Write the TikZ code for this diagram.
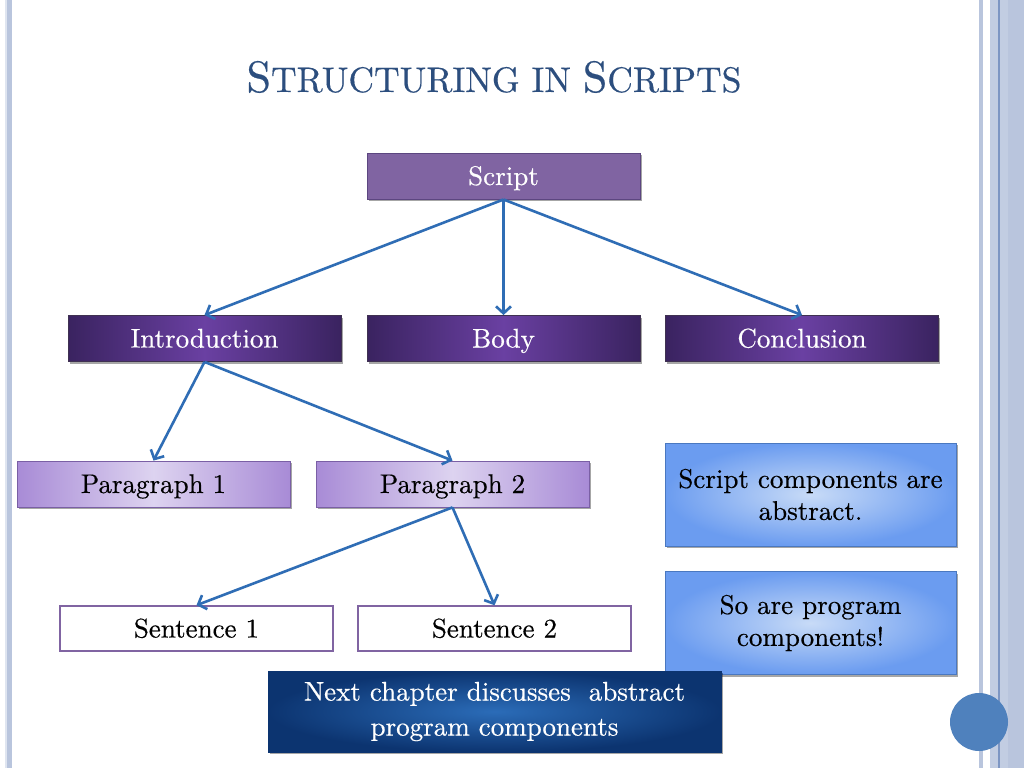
\documentclass[tikz,border=0pt]{standalone}
\usepackage{fontspec}
\newfontfamily\heavyrm{lmroman10-regular.otf}[FakeBold=0.4]
\usetikzlibrary{arrows.meta,shadows}
\definecolor{titleblue}{HTML}{2C4E7E}
\definecolor{scriptfill}{HTML}{8064A2}
\definecolor{scriptline}{HTML}{5C4680}
\definecolor{dpedge}{HTML}{3A2360}
\definecolor{dpmid}{HTML}{6A40A2}
\definecolor{dpline}{HTML}{3F3151}
\definecolor{lpedge}{HTML}{A88BD6}
\definecolor{lpmid}{HTML}{DDD3F0}
\definecolor{lpline}{HTML}{7A5FA5}
\definecolor{bbin}{HTML}{C8DBF7}
\definecolor{bbout}{HTML}{6B9CF0}
\definecolor{bbline}{HTML}{4A78C0}
\definecolor{ncin}{HTML}{2B6CB8}
\definecolor{ncout}{HTML}{0C3470}
\definecolor{arrowblue}{HTML}{2F6DB5}
\definecolor{frameA}{HTML}{B9C5DD}
\definecolor{frameB}{HTML}{C2CDE2}
\definecolor{frameC}{HTML}{7D96C3}
\definecolor{frameD}{HTML}{DFE5F0}
\definecolor{dotblue}{HTML}{4F81BD}
\newcommand{\ttlbig}[1]{{\fontsize{44}{50}\selectfont #1}}
\newcommand{\ttlsmall}[1]{{\fontsize{35.5}{50}\selectfont #1}}
\begin{document}
\begin{tikzpicture}[x=1pt,y=-1pt,
  lbl/.style={font=\heavyrm\fontsize{27}{32}\selectfont, align=center, inner sep=0pt},
  shad/.style={drop shadow={shadow xshift=1.5pt, shadow yshift=-2pt, opacity=0.35, fill=black}},
  treebox/.style={lbl, shad, minimum width=273, minimum height=46, text height=22pt, text depth=4pt},
  topbox/.style={treebox, fill=scriptfill, draw=scriptline, line width=1pt, text=white},
  darkbox/.style={treebox, left color=dpedge, right color=dpedge, middle color=dpmid, draw=dpline, line width=0.8pt, text=white},
  lightbox/.style={treebox, left color=lpedge, right color=lpedge, middle color=lpmid, draw=lpline, line width=0.8pt, text=black},
  sentbox/.style={lbl, minimum width=273, minimum height=45, text height=22pt, text depth=4pt, fill=white, draw=scriptfill, line width=1.5pt, text=black},
  notebox/.style={lbl, shad, minimum width=291, minimum height=103, inner color=bbin, outer color=bbout, draw=bbline, line width=0.8pt, text=black},
  chapbox/.style={lbl, font=\heavyrm\fontsize{27}{35}\selectfont, shad, minimum width=453, minimum height=81, inner color=ncin, outer color=ncout, draw=ncout, line width=0.8pt, text=white},
  conn/.style={draw=arrowblue, line width=2.6pt, -{Straight Barb[length=7pt,width=15pt,line width=2.6pt]}}
]
\useasboundingbox (0,0) rectangle (1024,768);
\fill[white] (0,0) rectangle (1024,768);
% frame strips
\fill[frameD] (5,0) rectangle (7,768);
\fill[frameA] (7,0) rectangle (12,768);
\fill[frameA] (979,0) rectangle (983,768);
\fill[frameB] (990,0) rectangle (1008,768);
\fill[frameC] (998,0) rectangle (999.5,768);
\fill[frameA] (1008,0) rectangle (1024,768);
\fill[dotblue] (979,722) circle (29);

\node[text=titleblue, inner sep=0pt, anchor=base] (title) at (494,92) {\heavyrm\ttlbig{S}\ttlsmall{TRUCTURING IN }\ttlbig{S}\ttlsmall{CRIPTS}};

\node[topbox] (script) at (503.5,176) {Script};
\node[darkbox] (intro) at (204.5,338.5) {Introduction};
\node[darkbox] (body) at (503.5,338.5) {Body};
\node[darkbox] (concl) at (802,338.5) {Conclusion};
\node[lightbox] (par1) at (153.5,484) {Paragraph 1};
\node[lightbox] (par2) at (452.5,484) {Paragraph 2};
\node[sentbox] (sen1) at (196.5,628.5) {Sentence 1};
\node[sentbox] (sen2) at (494.5,628.5) {Sentence 2};
\node[notebox] (note1) at (810.5,494.5) {Script components are\\abstract.};
\node[notebox] (note2) at (810.5,623) {So are program\\components!};
\node[chapbox] (chap) at (494.5,711.5) {Next chapter discusses\ \ abstract\\program components};

\draw[conn] (script.south) -- (intro.north);
\draw[conn] (script.south) -- (body.north);
\draw[conn] (script.south) -- (concl.north);
\draw[conn] (intro.south) -- (par1.north);
\draw[conn] (intro.south) -- (par2.north);
\draw[conn] (par2.south) -- (sen1.north);
\draw[conn] (par2.south) -- (sen2.north);
\end{tikzpicture}
\end{document}
